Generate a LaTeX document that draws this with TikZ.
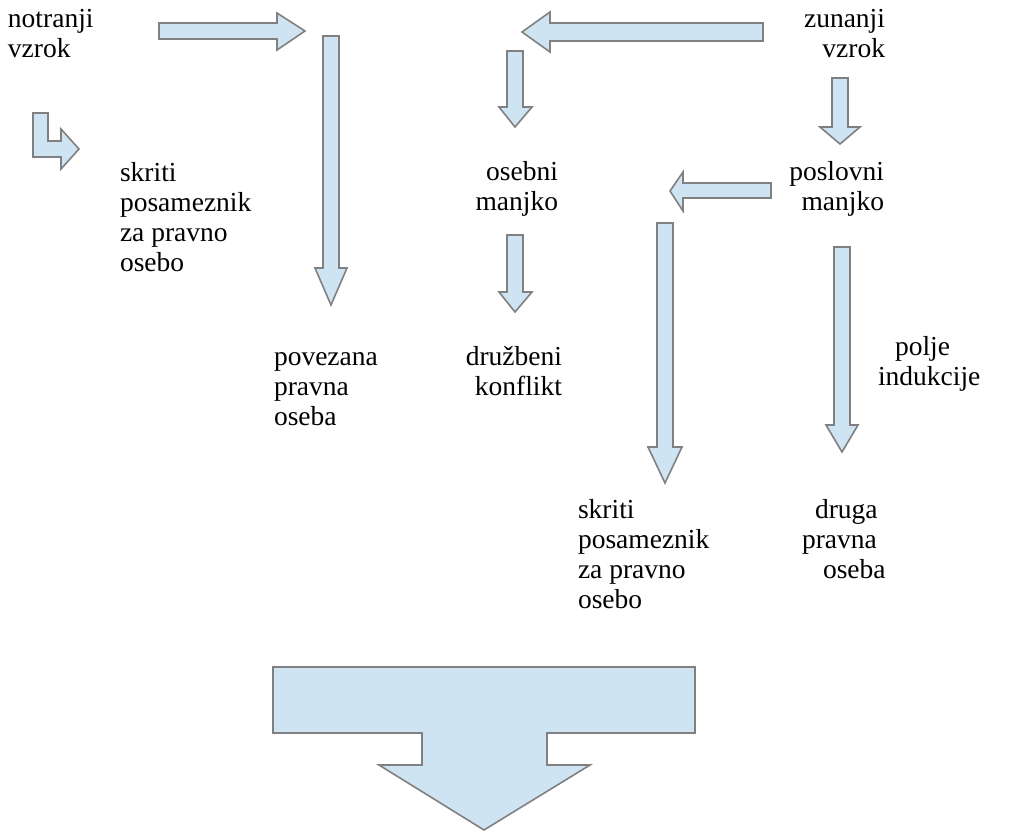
\documentclass[tikz,border=0pt]{standalone}
\usepackage{fontspec}
\setmainfont{Liberation Serif}
\definecolor{arrowfill}{RGB}{207,228,242}
\definecolor{arrowline}{RGB}{128,128,128}
\begin{document}
\begin{tikzpicture}[x=1pt,y=-1pt,
  blockarrow/.style={fill=arrowfill,draw=arrowline,line width=1.6pt,line join=miter},
  lbl/.style={inner sep=0pt,outer sep=0pt,font=\fontsize{27.5}{30}\selectfont},
  lw/.style={lbl,anchor=base west},
  le/.style={lbl,anchor=base east}]
\useasboundingbox (0,0) rectangle (1018,831);

% ---- block arrows ----
% right arrow from "notranji vzrok"
\draw[blockarrow] (159,23) -- (277,23) -- (277,13) -- (305,31) -- (277,50) -- (277,39) -- (159,39) -- cycle;
% bent arrow towards the hidden individual
\draw[blockarrow] (33,113) -- (48,113) -- (48,141) -- (61,141) -- (61,129) -- (79,149) -- (61,169) -- (61,157) -- (33,157) -- cycle;
% long down arrow to the related legal person
\draw[blockarrow] (323,36) -- (339,36) -- (339,268) -- (347,268) -- (331,305) -- (315,268) -- (323,268) -- cycle;
% left arrow from "zunanji vzrok"
\draw[blockarrow] (763,23) -- (550,23) -- (550,12) -- (522,32) -- (550,52) -- (550,41) -- (763,41) -- cycle;
% down arrow to "osebni manjko"
\draw[blockarrow] (507,51) -- (523,51) -- (523,107) -- (532,107) -- (515,127) -- (499,107) -- (507,107) -- cycle;
% down arrow to "poslovni manjko"
\draw[blockarrow] (832,78) -- (848,78) -- (848,127) -- (860,127) -- (840,144) -- (820,127) -- (832,127) -- cycle;
% left arrow from "poslovni manjko"
\draw[blockarrow] (771,183) -- (683,183) -- (683,172) -- (670,191) -- (683,211) -- (683,198) -- (771,198) -- cycle;
% down arrow to "družbeni konflikt"
\draw[blockarrow] (507,235) -- (523,235) -- (523,292) -- (532,292) -- (515,312) -- (499,292) -- (507,292) -- cycle;
% long down arrow to the lower hidden individual
\draw[blockarrow] (657,223) -- (673,223) -- (673,447) -- (682,447) -- (665,483) -- (648,447) -- (657,447) -- cycle;
% long down arrow to "druga pravna oseba"
\draw[blockarrow] (834,247) -- (850,247) -- (850,425) -- (858,425) -- (842,452) -- (826,425) -- (834,425) -- cycle;
% large collecting arrow at the bottom
\draw[blockarrow] (273,667) -- (695,667) -- (695,733) -- (547,733) -- (547,765) -- (590,765) -- (484,830) -- (379,765) -- (422,765) -- (422,733) -- (273,733) -- cycle;

% ---- labels ----
\node[lw] (notranji1) at (8,27) {notranji};
\node[lw] (notranji2) at (8,57) {vzrok};
\node[le] (zunanji1) at (885,27) {zunanji};
\node[le] (zunanji2) at (885,57) {vzrok};

\node[lw] (skritiA1) at (120,181) {skriti};
\node[lw] (skritiA2) at (120,211) {posameznik};
\node[lw] (skritiA3) at (120,241) {za pravno};
\node[lw] (skritiA4) at (120,271) {osebo};

\node[le] (osebni1) at (558,180) {osebni};
\node[le] (osebni2) at (558,210) {manjko};
\node[le] (poslovni1) at (884,180) {poslovni};
\node[le] (poslovni2) at (884,210) {manjko};

\node[lw] (povezana1) at (274,365) {povezana};
\node[lw] (povezana2) at (274,395) {pravna};
\node[lw] (povezana3) at (274,425) {oseba};
\node[le] (druzbeni1) at (562,365) {družbeni};
\node[le] (druzbeni2) at (562,395) {konflikt};

\node[lw] (polje1) at (895,355) {polje};
\node[lw] (polje2) at (878,385) {indukcije};

\node[lw] (skritiB1) at (578,518) {skriti};
\node[lw] (skritiB2) at (578,548) {posameznik};
\node[lw] (skritiB3) at (578,578) {za pravno};
\node[lw] (skritiB4) at (578,608) {osebo};

\node[lw] (druga1) at (815,518) {druga};
\node[lw] (druga2) at (802,548) {pravna};
\node[lw] (druga3) at (823,578) {oseba};
\end{tikzpicture}
\end{document}
